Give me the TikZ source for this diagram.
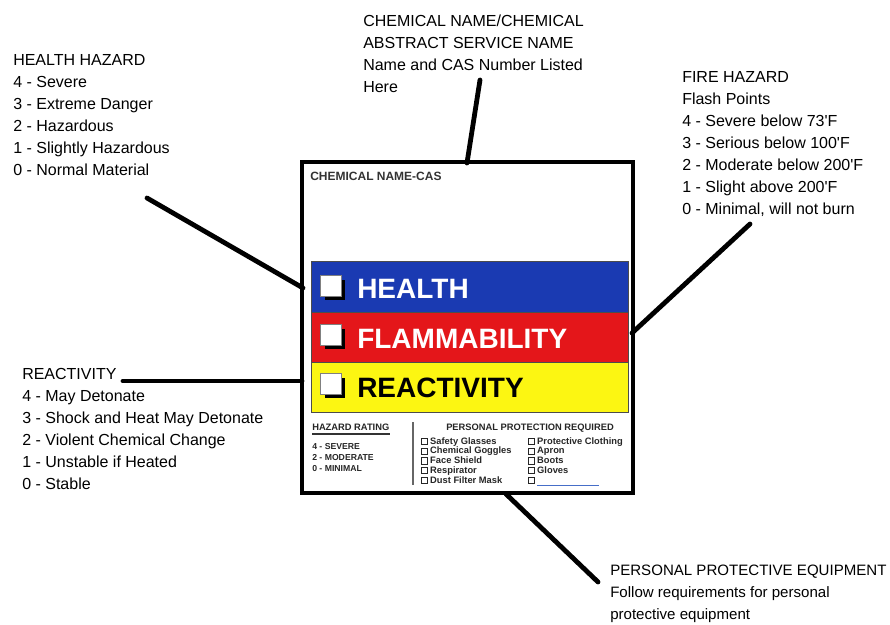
\documentclass[tikz,border=0pt]{standalone}
\usepackage{fontspec}
\setmainfont{Liberation Sans}
\usepackage{xcolor}
\usetikzlibrary{shadows}

\definecolor{hmisblue}{RGB}{26,58,178}
\definecolor{hmisred}{RGB}{228,22,26}
\definecolor{hmisyellow}{RGB}{252,246,18}
\definecolor{inkblue}{RGB}{70,110,200}

\newcommand{\ppebox}{{\setlength{\fboxsep}{0pt}\setlength{\fboxrule}{0.6pt}\fbox{\rule{0pt}{4pt}\hspace{4pt}}}\hspace{1.5pt}}

\tikzset{
  note/.style={anchor=base west, align=left, inner sep=0pt, font=\fontsize{12}{16.5}\selectfont},
  lead/.style={line width=3.6pt, line cap=round},
  band/.style={draw=black!70, line width=0.6pt},
  bandtext/.style={anchor=base west, inner sep=0pt, font=\bfseries\fontsize{21}{21}\selectfont},
  chkbox/.style={minimum size=15.5pt, inner sep=0pt, fill=white, draw=black!50, line width=0.4pt,
    general shadow={fill=black, shadow xshift=3pt, shadow yshift=-3pt}},
  tiny/.style={anchor=base west, align=left, inner sep=0pt, text=black!85, font=\bfseries\fontsize{7}{7.3}\selectfont},
}

\begin{document}
\begin{tikzpicture}[x=0.75pt, y=-0.75pt]
\useasboundingbox (0,0) rectangle (890,625);

% the label card
\draw[line width=3pt] (302,162) rectangle (633,493);
\node[anchor=base west, inner sep=0pt, text=black!80, font=\bfseries\fontsize{9}{9}\selectfont] (casname) at (310,180) {CHEMICAL NAME-CAS};

\draw[band, fill=hmisblue] (311,261) rectangle (628,312);
\draw[band, fill=hmisred] (311,312) rectangle (628,362);
\draw[band, fill=hmisyellow] (311,362) rectangle (628,412);

\node[chkbox] (hbox) at (331,286) {};
\node[chkbox] (fbox) at (331,335) {};
\node[chkbox] (rbox) at (331,384) {};
\node[bandtext, text=white] (health) at (357,298) {HEALTH};
\node[bandtext, text=white] (flam) at (357,348) {FLAMMABILITY};
\node[bandtext] (react) at (357,397) {REACTIVITY};

% rating key and protection list (multi-line nodes sit on their last baseline)
\node[tiny] (rating) at (312,430) {HAZARD RATING};
\draw[black!80, line width=0.8pt] ([yshift=-3pt]rating.base west) -- ([yshift=-3pt]rating.base east);
\node[tiny, font=\bfseries\fontsize{6.5}{7.9}\selectfont] (scale) at (312,471) {4 - SEVERE\\2 - MODERATE\\0 - MINIMAL};
\draw[black!60, line width=1pt] (413,422) -- (413,485);
\node[tiny, anchor=base] (ppereq) at (530,430) {PERSONAL PROTECTION REQUIRED};
\node[tiny] (ppeleft) at (421,483) {\ppebox Safety Glasses\\\ppebox Chemical Goggles\\\ppebox Face Shield\\\ppebox Respirator\\\ppebox Dust Filter Mask};
\node[tiny] (pperight) at (528,483) {\ppebox Protective Clothing\\\ppebox Apron\\\ppebox Boots\\\ppebox Gloves\\\ppebox\textcolor{inkblue}{\rule[-2pt]{46pt}{0.8pt}}};

% notes around the card
\node[note] (health-note) at (13,175) {HEALTH HAZARD\\4 - Severe\\3 - Extreme Danger\\2 - Hazardous\\1 - Slightly Hazardous\\0 - Normal Material};
\node[note] (chem-note) at (363,92) {CHEMICAL NAME/CHEMICAL\\ABSTRACT SERVICE NAME\\Name and CAS Number Listed\\Here};
\node[note] (fire-note) at (682,214) {FIRE HAZARD\\Flash Points\\4 - Severe below 73\textquotesingle F\\3 - Serious below 100\textquotesingle F\\2 - Moderate below 200\textquotesingle F\\1 - Slight above 200\textquotesingle F\\0 - Minimal, will not burn};
\node[note] (react-note) at (22,489) {REACTIVITY\\4 - May Detonate\\3 - Shock and Heat May Detonate\\2 - Violent Chemical Change\\1 - Unstable if Heated\\0 - Stable};
\node[note, font=\fontsize{11.3}{16.5}\selectfont] (ppe-note) at (610,619) {PERSONAL PROTECTIVE EQUIPMENT\\Follow requirements for personal\\protective equipment};

% leader lines
\coordinate (chem-a) at (480,80);
\coordinate (chem-b) at (467,163);
\coordinate (health-a) at (147,198);
\coordinate (health-b) at (303,288);
\coordinate (fire-a) at (750,224);
\coordinate (fire-b) at (632,333);
\coordinate (react-a) at (123,381);
\coordinate (react-b) at (302,381);
\coordinate (ppe-a) at (506,494);
\coordinate (ppe-b) at (598,582);
\draw[lead] (chem-a) -- (chem-b);
\draw[lead] (health-a) -- (health-b);
\draw[lead] (fire-a) -- (fire-b);
\draw[lead] (react-a) -- (react-b);
\draw[lead] (ppe-a) -- (ppe-b);
\end{tikzpicture}
\end{document}
